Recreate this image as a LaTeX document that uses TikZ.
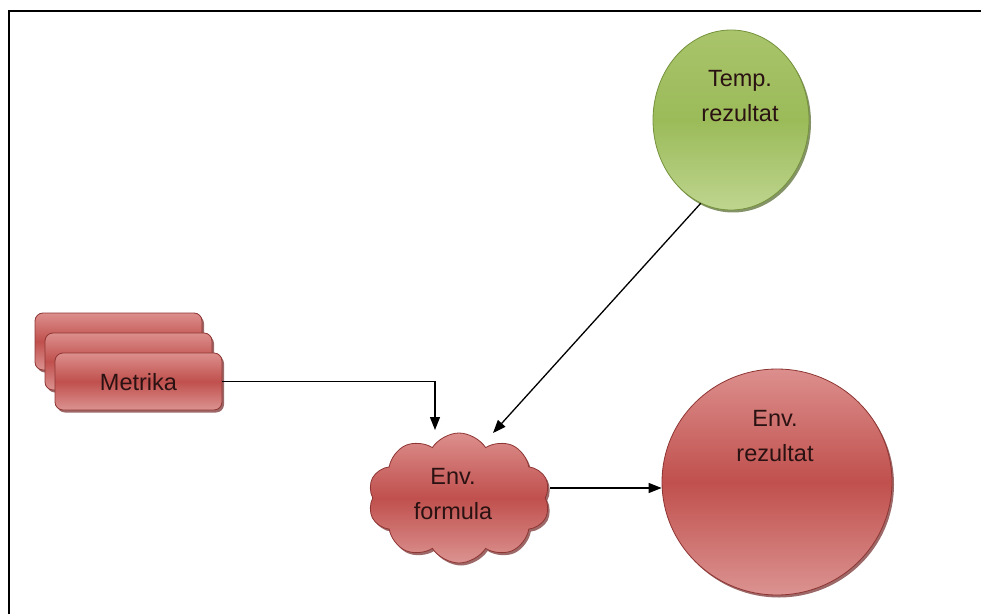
\documentclass[tikz,border=0pt]{standalone}
\usepackage{fontspec}
\setmainfont{Liberation Sans}
\usetikzlibrary{shapes.geometric,shapes.symbols,shadows,arrows.meta}
\definecolor{redtop}{HTML}{DC8F8D}
\definecolor{redmid}{HTML}{C0504D}
\definecolor{redbot}{HTML}{DB9391}
\definecolor{rededge}{HTML}{8E3533}
\definecolor{grtop}{HTML}{A9C46B}
\definecolor{grmid}{HTML}{9BBB59}
\definecolor{grbot}{HTML}{BED58F}
\definecolor{gredge}{HTML}{75923C}
\definecolor{txt}{HTML}{2A1212}
\tikzset{
  redfill/.style={top color=redtop, bottom color=redbot, middle color=redmid, draw=rededge, line width=0.8pt,
    drop shadow={shadow xshift=2pt, shadow yshift=-2.5pt, fill=rededge!80!black, opacity=0.7}},
  greenfill/.style={top color=grtop, bottom color=grbot, middle color=grmid, draw=gredge, line width=0.8pt,
    drop shadow={shadow xshift=2pt, shadow yshift=-2.5pt, fill=gredge!70!black, opacity=0.7}},
  metbox/.style={redfill, rounded corners=8pt, minimum width=167pt, minimum height=57pt, inner sep=0pt},
  lbl/.style={font=\fontsize{23.5}{35}\selectfont, text=txt, align=center, inner sep=0pt},
  arr/.style={draw=black, line width=1.3pt, -{Triangle[length=13pt,width=10pt]}}
}
\begin{document}
\begin{tikzpicture}[x=1pt,y=1pt]
\useasboundingbox (0,0) rectangle (981,614);
\fill[white] (0,0) rectangle (981,614);
\draw[line width=2pt] (9,0) -- (9,603) -- (981,603);

% Metrika stack
\node[metbox] (met3) at (118.5,272.5) {};
\node[metbox] (met2) at (128.5,252.5) {};
\node[metbox] (met) at (138.5,232.5) {};
\node[lbl] (mettext) at (138.5,232) {Metrika};

% Temp. rezultat
\node[ellipse, greenfill, minimum width=156pt, minimum height=180pt, inner sep=0pt] (tr) at (731,494) {};
\node[lbl] (trtext) at (740,517.5) {Temp.\\rezultat};

% Env. rezultat
\node[ellipse, redfill, minimum width=230pt, minimum height=226pt, inner sep=0pt] (er) at (777,132) {};
\node[lbl] (ertext) at (775,177.5) {Env.\\rezultat};

% Env. formula cloud
\node[cloud, redfill, cloud puffs=10, cloud puff arc=115, aspect=1.4, minimum width=182pt, minimum height=130pt, inner sep=0pt] (env) at (459,116) {};
\node[lbl] (envtext) at (453,119.5) {Env.\\formula};

% connectors
\coordinate (m1) at (435,184);
\coordinate (t1) at (493,181);
\coordinate (e1) at (550,126);
\draw[arr] (met.east) -| (m1);
\draw[arr] (tr.250) -- (t1);
\draw[arr] (e1) -- (e1 -| er.west);
\end{tikzpicture}
\end{document}
